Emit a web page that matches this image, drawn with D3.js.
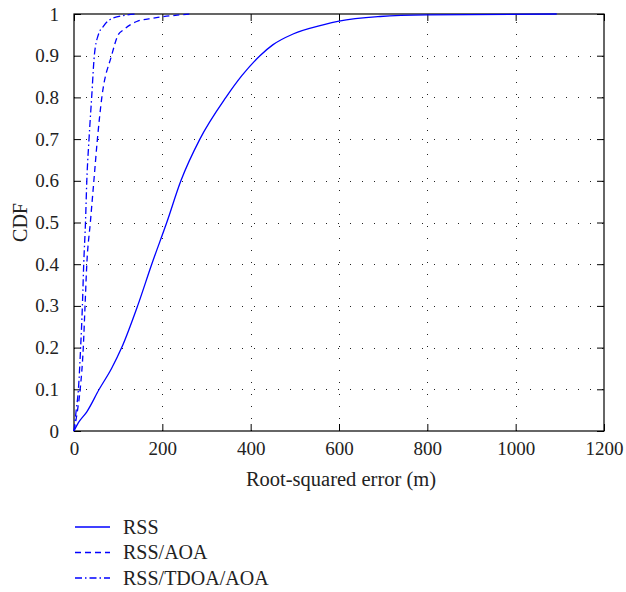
<!DOCTYPE html>
<html lang="en">
<head>
    <meta charset="UTF-8">
    <title>CDF of root-squared error</title>
    <style>
        body { margin: 0; background: #fff; }
        text { font-family: "Liberation Serif", "DejaVu Serif", serif; fill: #222; }
    </style>
</head>
<body>
<script src="https://d3js.org/d3.v7.min.js"></script>
<script>
    // error values (m) and cdf values
    const rssErr = [0, 10, 29, 57, 85, 108, 144, 176, 210, 242, 285, 344, 380, 421, 450, 496, 564, 600, 693, 800, 1093];
    const rssCdf = [0, 0.02, 0.046, 0.1, 0.15, 0.2, 0.3, 0.4, 0.5, 0.6, 0.7, 0.8, 0.852, 0.9, 0.926, 0.952, 0.974, 0.983, 0.994, 0.998, 1];

    const aoaErr = [0, 8, 14, 21, 25, 29, 37, 45, 53, 63, 85, 100, 112, 142, 180, 263];
    const aoaCdf = [0, 0.05, 0.1, 0.2, 0.3, 0.4, 0.5, 0.6, 0.7, 0.8, 0.9, 0.95, 0.962, 0.982, 0.99, 1];

    const tdoaErr = [0, 5, 10, 15, 19, 22, 26, 29, 34, 40, 46, 55, 66, 88, 142];
    const tdoaCdf = [0, 0.05, 0.1, 0.2, 0.3, 0.4, 0.5, 0.6, 0.7, 0.8, 0.9, 0.95, 0.97, 0.99, 1];

    const xTicks = [0, 200, 400, 600, 800, 1000, 1200];
    const yTicks = [0, 0.1, 0.2, 0.3, 0.4, 0.5, 0.6, 0.7, 0.8, 0.9, 1];

    const seriesNames = ["RSS", "RSS/AOA", "RSS/TDOA/AOA"];

    // size of the page and the plot box
    const width = 626, height = 592;
    const boxLeft = 74, boxRight = 604, boxTop = 14, boxBottom = 431;

    const svg = d3.select("body").append("svg")
        .attr("width", width)
        .attr("height", height);

    const x = d3.scaleLinear().domain([0, 1200]).range([boxLeft, boxRight]);
    const y = d3.scaleLinear().domain([0, 1]).range([boxBottom, boxTop]);

    // dotted grid
    const grid = svg.append("g")
        .attr("stroke", "#222")
        .attr("stroke-width", 1)
        .attr("stroke-dasharray", "1,11");
    grid.selectAll(".vg").data(xTicks.slice(1, -1)).join("line")
        .attr("x1", d => Math.round(x(d)) + 0.5).attr("x2", d => Math.round(x(d)) + 0.5)
        .attr("y1", boxBottom).attr("y2", boxTop);
    grid.selectAll(".hg").data(yTicks.slice(1, -1)).join("line")
        .attr("y1", d => Math.round(y(d)) + 0.5).attr("y2", d => Math.round(y(d)) + 0.5)
        .attr("x1", boxLeft).attr("x2", boxRight);

    // axes with inward ticks, matlab box style
    const tickLen = 7;
    svg.append("g")
        .attr("transform", `translate(0,${boxBottom})`)
        .call(d3.axisBottom(x).tickValues(xTicks).tickSize(-tickLen).tickPadding(tickLen + 4).tickFormat(d3.format("d")))
        .call(g => g.select(".domain").remove());
    svg.append("g")
        .attr("transform", `translate(0,${boxTop})`)
        .call(d3.axisTop(x).tickValues(xTicks).tickSize(-tickLen).tickFormat(""))
        .call(g => g.select(".domain").remove());
    svg.append("g")
        .attr("transform", `translate(${boxLeft},0)`)
        .call(d3.axisLeft(y).tickValues(yTicks).tickSize(-tickLen).tickPadding(tickLen + 8).tickFormat(d => d === 0 || d === 1 ? d : d3.format(".1f")(d)))
        .call(g => g.select(".domain").remove());
    svg.append("g")
        .attr("transform", `translate(${boxRight},0)`)
        .call(d3.axisRight(y).tickValues(yTicks).tickSize(-tickLen).tickFormat(""))
        .call(g => g.select(".domain").remove());

    svg.selectAll(".tick line").attr("stroke", "#000");
    svg.selectAll(".tick text")
        .style("font-family", "'Liberation Serif', serif")
        .style("font-size", "19px")
        .attr("fill", "#222");

    // the box
    svg.append("rect")
        .attr("x", boxLeft).attr("y", boxTop)
        .attr("width", boxRight - boxLeft).attr("height", boxBottom - boxTop)
        .attr("fill", "none")
        .attr("stroke", "#000")
        .attr("stroke-width", 1.2);

    // curves
    const series = [
        {name: seriesNames[0], err: rssErr, cdf: rssCdf, dash: null},
        {name: seriesNames[1], err: aoaErr, cdf: aoaCdf, dash: "6,4"},
        {name: seriesNames[2], err: tdoaErr, cdf: tdoaCdf, dash: "7,3,1.5,3"}
    ];

    const line = d3.line()
        .x(d => x(d[0]))
        .y(d => y(d[1]))
        .curve(d3.curveMonotoneX);

    series.forEach(s => {
        svg.append("path")
            .datum(d3.zip(s.err, s.cdf))
            .attr("fill", "none")
            .attr("stroke", "#0000ff")
            .attr("stroke-width", 1.3)
            .attr("stroke-dasharray", s.dash)
            .attr("d", line);
    });

    // axis titles
    svg.append("text")
        .attr("x", (boxLeft + boxRight) / 2 + 2)
        .attr("y", 486)
        .attr("text-anchor", "middle")
        .style("font-size", "20.5px")
        .text("Root-squared error (m)");

    svg.append("text")
        .attr("transform", `translate(27,${(boxTop + boxBottom) / 2}) rotate(-90)`)
        .attr("text-anchor", "middle")
        .style("font-size", "20px")
        .text("CDF");

    // legend below the plot
    const legend = svg.append("g").attr("transform", "translate(75,527)");
    series.forEach((s, i) => {
        const row = legend.append("g").attr("transform", `translate(0,${i * 25.5})`);
        row.append("line")
            .attr("x1", 0).attr("x2", 35)
            .attr("y1", 0).attr("y2", 0)
            .attr("stroke", "#0000ff")
            .attr("stroke-width", 1.3)
            .attr("stroke-dasharray", s.dash);
        row.append("text")
            .attr("x", 48)
            .attr("y", 6.5)
            .style("font-size", "20px")
            .text(s.name);
    });
</script>
</body>
</html>
